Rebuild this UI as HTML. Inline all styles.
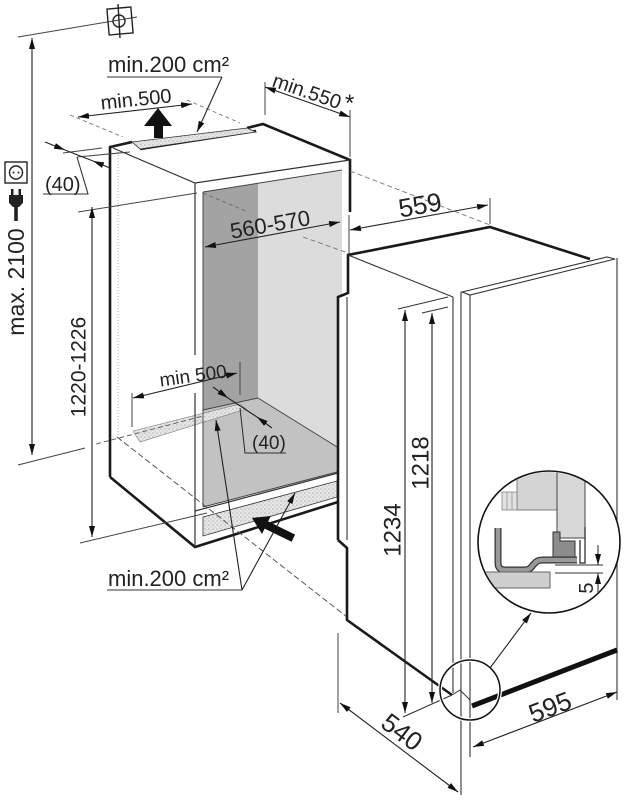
<!DOCTYPE html>
<html><head><meta charset="utf-8"><style>
html,body{margin:0;padding:0;background:#fff;}
svg{display:block;}
text{font-family:"Liberation Sans",Arial,sans-serif;fill:#222;}
</style></head><body>
<svg width="628" height="800" viewBox="0 0 628 800" xmlns="http://www.w3.org/2000/svg">
<defs>
<marker id="ar" viewBox="0 0 11 6" refX="11" refY="3" markerWidth="11" markerHeight="6" markerUnits="userSpaceOnUse" orient="auto-start-reverse"><path d="M0,0L11,3L0,6z" fill="#111"/></marker>
<pattern id="dots" width="4" height="4" patternUnits="userSpaceOnUse"><rect width="4" height="4" fill="#e6e6e6"/><circle cx="1" cy="1" r="0.6" fill="#9a9a9a"/><circle cx="3" cy="3" r="0.5" fill="#b0b0b0"/></pattern>
<clipPath id="bc"><circle cx="549" cy="542" r="70"/></clipPath>
</defs>

<!-- ===== niche interior ===== -->
<polygon points="203,192 342,170 342,472 203,507" fill="#c2c2c2"/>
<polygon points="258,183 342,170 342,450 258,398" fill="#dcdcdc"/>
<polygon points="203,192 258,183 258,398 203,410" fill="#a3a3a3"/>
<polygon points="133,431 240,404 246,409 140,442" fill="url(#dots)" stroke="#777" stroke-width="0.6"/>
<polygon points="203,507 337,472 337,478 203,513" fill="#fff"/>
<polygon points="203,517 337,481 337,497 203,536" fill="url(#dots)" stroke="#333" stroke-width="0.8"/>
<g stroke="#444" stroke-width="1" fill="none">
<line x1="203" y1="410" x2="258" y2="398"/>
<line x1="258" y1="398" x2="342" y2="450"/>
<line x1="203" y1="507" x2="337" y2="472"/>
<line x1="203" y1="192" x2="203" y2="507"/>
<line x1="203" y1="192" x2="342" y2="170"/>
</g>
<line x1="203" y1="193" x2="248" y2="212" stroke="#666" stroke-width="0.9" stroke-dasharray="4,3"/>

<!-- ===== niche outline ===== -->
<g stroke="#1a1a1a" stroke-width="2.6" fill="none" stroke-linejoin="miter">
<path d="M110,477 L110,147 L132,142"/>
<path d="M140,149 L256,131"/>
<path d="M247,128 L263,124 L350,160 L350,212"/>
<path d="M110,477 L195,547 L338,502"/>
</g>
<polygon points="132,142 247,128 256,132 140,149" fill="url(#dots)" stroke="#333" stroke-width="0.8"/>
<g stroke="#333" stroke-width="1.2" fill="none">
<path d="M113,148 L195,183 L350,160"/>
<line x1="195" y1="183" x2="195" y2="355"/>
<line x1="195" y1="393" x2="195" y2="547"/>
<line x1="195" y1="511" x2="338" y2="473"/>
</g>
<line x1="118" y1="152" x2="118" y2="440" stroke="#aaa" stroke-width="1" stroke-dasharray="1,2"/>
<line x1="117" y1="437" x2="347" y2="617" stroke="#555" stroke-width="1" stroke-dasharray="6,3"/>
<line x1="96" y1="444" x2="203" y2="416" stroke="#555" stroke-width="0.9" stroke-dasharray="5,3"/>
<line x1="350" y1="171" x2="490" y2="225" stroke="#777" stroke-width="0.9" stroke-dasharray="5,3"/>
<line x1="303" y1="237" x2="348" y2="253" stroke="#777" stroke-width="0.9" stroke-dasharray="5,3"/>

<!-- extension lines -->
<g stroke="#444" stroke-width="1" fill="none">
<line x1="18" y1="37" x2="137" y2="17"/>
<line x1="18" y1="465" x2="85" y2="448"/>
<line x1="78" y1="212" x2="197" y2="193"/>
<line x1="80" y1="543" x2="207" y2="513"/>
<line x1="265" y1="82" x2="265" y2="115"/>
<line x1="350" y1="110" x2="350" y2="157"/>
<line x1="349" y1="215" x2="349" y2="255"/>
<line x1="490" y1="198" x2="490" y2="224"/>
<line x1="132" y1="393" x2="132" y2="427"/>
<line x1="240" y1="362" x2="240" y2="395"/>
<line x1="63" y1="153" x2="102" y2="148"/>
<line x1="77" y1="157" x2="130" y2="152"/>
<line x1="338" y1="633" x2="338" y2="713"/>
</g>
<g stroke="#777" stroke-width="0.9" stroke-dasharray="4,3">
<line x1="70" y1="115" x2="123" y2="137"/>
<line x1="187" y1="100" x2="240" y2="123"/>
</g>

<!-- ===== fridge ===== -->
<polygon points="338,297 348,293 348,255 490,227 590,258 610,254 617,258 617,650 472,708 452,696 440,685 347,620 347,548 338,540" fill="#fff"/>
<g stroke="#1a1a1a" stroke-width="2.6" fill="none">
<path d="M338,540 L338,297 L348,293 L348,255 L490,227 L590,259"/>
<path d="M338,540 L347,548 L347,620 L452,695"/>
</g>
<g stroke="#333" stroke-width="1.1" fill="none">
<line x1="347" y1="297" x2="347" y2="540"/>
<line x1="348" y1="255" x2="453" y2="297"/>
<polygon points="462,292 607,257 615,259 470,295" fill="#fff"/>
<line x1="453" y1="297" x2="453" y2="693"/>
<line x1="461" y1="292" x2="461" y2="795"/>
<line x1="470" y1="295" x2="470" y2="757"/>
<line x1="617" y1="258" x2="617" y2="700"/>
<line x1="398" y1="309" x2="448" y2="297"/>
<line x1="422" y1="313" x2="448" y2="307"/>
<line x1="403" y1="717" x2="452" y2="695"/>
</g>
<line x1="472" y1="706" x2="617" y2="650" stroke="#111" stroke-width="5"/>
<circle cx="470" cy="690" r="30" fill="none" stroke="#fff" stroke-width="4"/>
<circle cx="470" cy="690" r="30" fill="none" stroke="#111" stroke-width="1.5"/>
<path d="M452,695 L460,690 L470,700" fill="none" stroke="#333" stroke-width="1"/>

<!-- ===== dimension lines ===== -->
<g stroke="#222" stroke-width="1.1" fill="none" marker-start="url(#ar)" marker-end="url(#ar)">
<line x1="32" y1="38" x2="32" y2="455"/>
<line x1="92" y1="207" x2="92" y2="537"/>
<line x1="78" y1="117" x2="192" y2="104"/>
<line x1="265" y1="87" x2="350" y2="117"/>
<line x1="350" y1="230" x2="488" y2="205"/>
<line x1="205" y1="247" x2="340" y2="222"/>
<line x1="133" y1="398" x2="237" y2="373"/>
<line x1="405" y1="310" x2="405" y2="713"/>
<line x1="432" y1="313" x2="432" y2="703"/>
<line x1="340" y1="703" x2="458" y2="792"/>
<line x1="473" y1="747" x2="617" y2="692"/>
</g>
<g stroke="#222" stroke-width="1.1" fill="none" marker-end="url(#ar)">
<line x1="45" y1="142" x2="65" y2="150"/>
<line x1="110" y1="168" x2="93" y2="161"/>
<line x1="213" y1="387" x2="228" y2="398"/>
<line x1="272" y1="428" x2="257" y2="417"/>
<line x1="222" y1="77" x2="197" y2="132"/>
<line x1="242" y1="590" x2="216" y2="420"/>
<line x1="242" y1="590" x2="295" y2="493"/>
<line x1="490" y1="668" x2="531" y2="613"/>
</g>
<line x1="65" y1="150" x2="93" y2="161" stroke="#222" stroke-width="1.1"/>
<line x1="228" y1="398" x2="257" y2="417" stroke="#222" stroke-width="1.1"/>
<!-- underline leaders -->
<g stroke="#333" stroke-width="1.1" fill="none">
<path d="M107,77 L222,77"/>
<path d="M43,194 L88,194 L77,157"/>
<path d="M286,453 L245,453 L240,408"/>
<path d="M107,590 L242,590"/>
</g>

<!-- block arrows -->
<polygon points="154,138 163,138 163,126 172,126 158,108 144,126 154,126" fill="#111"/>
<polygon points="0,0 16,-10 16,-4 46,-4 46,4 16,4 16,10" fill="#111" transform="translate(252,518) rotate(26)"/>

<!-- ceiling symbol -->
<g stroke="#222" stroke-width="1.4" fill="none">
<rect x="108" y="8" width="24" height="26" transform="rotate(-5 120 21)"/>
<circle cx="119" cy="21" r="6"/>
<line x1="118" y1="4" x2="120" y2="38"/>
</g>

<!-- socket & plug -->
<g stroke="#222" stroke-width="1.4" fill="none">
<rect x="5" y="162" width="22" height="21"/>
<circle cx="16" cy="172.5" r="6.5"/>
</g>
<circle cx="13.5" cy="172.5" r="1" fill="#222"/>
<circle cx="18.5" cy="172.5" r="1" fill="#222"/>
<g fill="#222">
<rect x="11" y="189" width="2.5" height="7"/>
<rect x="18.5" y="189" width="2.5" height="7"/>
<path d="M9,195 L23,195 L23,203 L19,207 L13,207 L9,203 Z"/>
<rect x="14.2" y="206" width="3.6" height="15"/>
</g>

<!-- ===== detail circle ===== -->
<circle cx="549" cy="542" r="71" fill="#fff"/>
<g clip-path="url(#bc)">
<rect x="517" y="465" width="40" height="45" fill="#d4d4d4" stroke="#666" stroke-width="0.8"/>
<rect x="502" y="492" width="15" height="18" fill="#e2e2e2" stroke="#777" stroke-width="0.7"/>
<line x1="507" y1="492" x2="507" y2="510" stroke="#888" stroke-width="0.7"/>
<line x1="512" y1="492" x2="512" y2="510" stroke="#888" stroke-width="0.7"/>
<rect x="557" y="462" width="28" height="76" fill="#d8d8d8" stroke="#444" stroke-width="1"/>
<polygon points="553,532 560,532 560,541 575,541 575,558 553,558" fill="#8c8c8c" stroke="#333" stroke-width="1"/>
<path d="M585,527 L585,563 L580,563 L580,540" fill="none" stroke="#222" stroke-width="1.2"/>
<path d="M498,528 L498,563 Q498,570 505,570 L525,570 Q530,570 533,565 L536,562 Q538,560 543,560 L577,560" fill="none" stroke="#333" stroke-width="7"/>
<path d="M498,528 L498,563 Q498,570 505,570 L525,570 Q530,570 533,565 L536,562 Q538,560 543,560 L577,560" fill="none" stroke="#999" stroke-width="4.5"/>
<rect x="484" y="572" width="66" height="16" fill="#cfcfcf" stroke="#666" stroke-width="1"/>
<g stroke="#333" stroke-width="0.9">
<line x1="555" y1="565" x2="603" y2="565"/>
<line x1="555" y1="573" x2="603" y2="573"/>
</g>
<line x1="598" y1="545" x2="598" y2="565" stroke="#222" stroke-width="1" marker-end="url(#ar)"/>
<line x1="598" y1="593" x2="598" y2="573" stroke="#222" stroke-width="1" marker-end="url(#ar)"/>
<text x="586" y="595" font-size="20" text-anchor="middle" transform="rotate(-90 586 588)">5</text>
</g>
<circle cx="549" cy="542" r="71" fill="none" stroke="#111" stroke-width="1.6"/>

<!-- ===== texts ===== -->
<text x="108" y="72" font-size="22">min.200 cm²</text>
<text x="136" y="106" font-size="20" text-anchor="middle" transform="rotate(-6 136 99)">min.500</text>
<text x="307" y="98" font-size="20" text-anchor="middle" transform="rotate(19 307 91)">min.550</text>
<text x="345" y="111" font-size="24">*</text>
<text x="45" y="191" font-size="20">(40)</text>
<text x="16" y="290" font-size="23" text-anchor="middle" transform="rotate(-90 16 282)">max. 2100</text>
<text x="78" y="374.5" font-size="21" text-anchor="middle" transform="rotate(-90 78 367)">1220-1226</text>
<text x="270" y="232" font-size="22" text-anchor="middle" transform="rotate(-10 270 224)">560-570</text>
<text x="420" y="214" font-size="26" text-anchor="middle" transform="rotate(-10 420 205)">559</text>
<text x="193" y="382" font-size="19" text-anchor="middle" transform="rotate(-8 193 375)">min 500</text>
<text x="252" y="449" font-size="19">(40)</text>
<text x="108" y="586" font-size="22">min.200 cm²</text>
<text x="392" y="538.6" font-size="24" text-anchor="middle" transform="rotate(-90 392 530)">1234</text>
<text x="420" y="471.6" font-size="24" text-anchor="middle" transform="rotate(-90 420 463)">1218</text>
<text x="402" y="741" font-size="26" text-anchor="middle" transform="rotate(37 402 732)">540</text>
<text x="550" y="716" font-size="26" text-anchor="middle" transform="rotate(-21 550 707)">595</text>
</svg>
</body></html>
